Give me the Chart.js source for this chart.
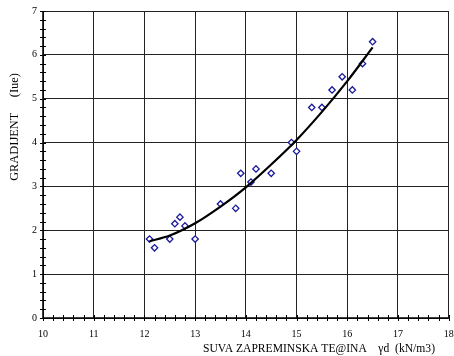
<!DOCTYPE html>
<html>
<head>
<meta charset="utf-8">
<script src="https://cdn.jsdelivr.net/npm/chart.js@4"></script>
<style>
  html, body { margin: 0; padding: 0; background: #fff; }
  #wrap { width: 454px; height: 356px; }
</style>
</head>
<body>
<div id="wrap"><canvas id="gradChart"></canvas></div>
<script>
  // measured points
  var dryWeight = [12.1, 12.2, 12.5, 12.6, 12.7, 12.8, 13.0, 13.5, 13.8, 13.9, 14.1, 14.2, 14.5, 14.9, 15.0, 15.3, 15.5, 15.7, 15.9, 16.1, 16.3, 16.5];
  var gradient = [1.8, 1.6, 1.8, 2.15, 2.3, 2.1, 1.8, 2.6, 2.5, 3.3, 3.1, 3.4, 3.3, 4.0, 3.8, 4.8, 4.8, 5.2, 5.5, 5.2, 5.8, 6.3];

  // trend curve
  var trendX = [12.1, 12.5, 13.0, 13.5, 14.0, 14.5, 15.0, 15.5, 16.0, 16.5];
  var trendY = [1.75, 1.88, 2.16, 2.54, 2.98, 3.5, 4.06, 4.7, 5.4, 6.17];

  var xTicks = [10, 11, 12, 13, 14, 15, 16, 17, 18];
  var yTicks = [0, 1, 2, 3, 4, 5, 6, 7];

  var yTitle = 'GRADIJENT     (Iue)';
  var xTitle = 'SUVA ZAPREMINSKA TE@INA    \u03b3d  (kN/m3)';

  function toPoints(xs, ys) {
    return xs.map(function (x, i) { return { x: x, y: ys[i] }; });
  }

  var serif = '"Liberation Serif", "Times New Roman", serif';

  var decorPlugin = {
    id: 'decor',
    afterDraw: function (chart) {
      var ctx = chart.ctx;
      var xs = chart.scales.x;
      var ys = chart.scales.y;
      var area = chart.chartArea;
      ctx.save();
      ctx.strokeStyle = '#000';
      ctx.lineWidth = 1;
      ctx.beginPath();
      // crossing minor ticks on both axes
      for (var v = 10; v <= 18.001; v += 0.2) {
        var px = Math.round(xs.getPixelForValue(v)) + 0.5;
        ctx.moveTo(px, area.bottom - 3);
        ctx.lineTo(px, area.bottom + 3);
      }
      for (var w = 0; w <= 7.001; w += 0.2) {
        var py = Math.round(ys.getPixelForValue(w)) + 0.5;
        ctx.moveTo(area.left - 3, py);
        ctx.lineTo(area.left + 3, py);
      }
      ctx.stroke();

      // axis lines
      ctx.lineWidth = 1.5;
      ctx.beginPath();
      ctx.moveTo(area.left, area.top);
      ctx.lineTo(area.left, area.bottom);
      ctx.lineTo(area.right, area.bottom);
      ctx.stroke();

      ctx.fillStyle = '#000';
      ctx.font = '11.6px ' + serif;
      ctx.textAlign = 'left';
      ctx.textBaseline = 'alphabetic';
      ctx.fillText(xTitle, 203, 352);

      ctx.font = '12.4px ' + serif;
      ctx.translate(18, 127);
      ctx.rotate(-Math.PI / 2);
      ctx.textAlign = 'center';
      ctx.fillText(yTitle, 0, 0);
      ctx.restore();
    }
  };

  document.addEventListener('DOMContentLoaded', function () {
    var canvas = document.getElementById('gradChart');

    new Chart(canvas, {
      type: 'scatter',
      data: {
        datasets: [{
          label: 'trend',
          data: toPoints(trendX, trendY),
          showLine: true,
          borderColor: '#000',
          borderWidth: 2.2,
          pointRadius: 0,
          cubicInterpolationMode: 'monotone',
          fill: false
        }, {
          label: 'mjerenja',
          data: toPoints(dryWeight, gradient),
          pointStyle: 'rectRot',
          pointRadius: 3.2,
          pointBorderWidth: 1.3,
          borderColor: '#1a1a9a',
          backgroundColor: '#fff'
        }]
      },
      plugins: [decorPlugin],
      options: {
        responsive: true,
        maintainAspectRatio: false,
        animation: false,
        layout: { padding: { top: 11, right: 0, left: 0, bottom: 0 } },
        plugins: {
          legend: { display: false },
          tooltip: { enabled: false }
        },
        scales: {
          x: {
            type: 'linear',
            min: 10,
            max: 18,
            afterBuildTicks: function (axis) {
              axis.ticks = xTicks.map(function (v) { return { value: v }; });
            },
            afterFit: function (axis) {
              axis.height = 38;
              axis.paddingLeft = 0;
              axis.paddingRight = 0;
            },
            ticks: {
              color: '#000',
              font: { family: serif, size: 10 },
              padding: 10,
              maxRotation: 0,
              autoSkip: false
            },
            grid: { color: '#222', lineWidth: 1, drawTicks: false },
            border: { display: false }
          },
          y: {
            min: 0,
            max: 7,
            afterBuildTicks: function (axis) {
              axis.ticks = yTicks.map(function (v) { return { value: v }; });
            },
            afterFit: function (axis) {
              axis.width = 43;
              axis.paddingTop = 0;
              axis.paddingBottom = 0;
            },
            ticks: {
              color: '#000',
              font: { family: serif, size: 10 },
              padding: 6,
              autoSkip: false
            },
            grid: { color: '#222', lineWidth: 1, drawTicks: false },
            border: { display: false }
          }
        }
      }
    });
  });
</script>
</body>
</html>
